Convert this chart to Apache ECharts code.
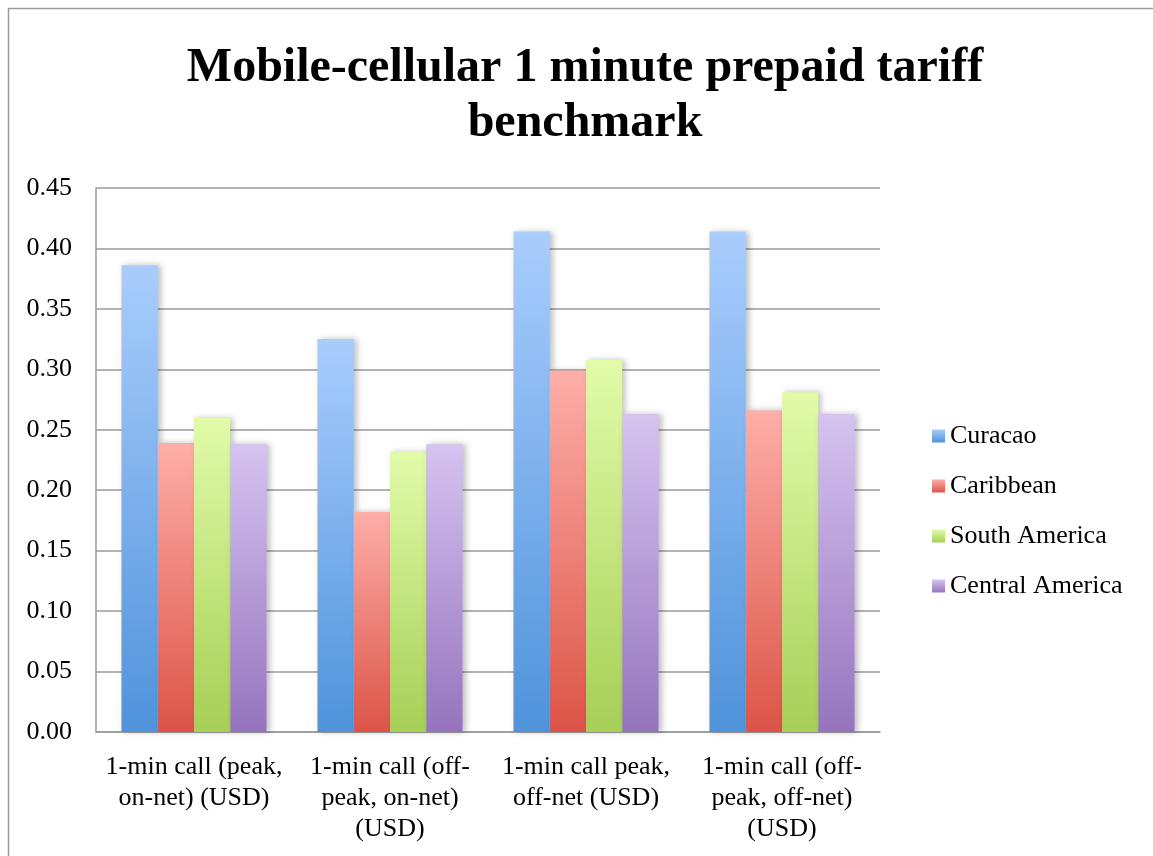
<!DOCTYPE html>
<html>
<head>
<meta charset="utf-8">
<script src="https://cdn.jsdelivr.net/npm/echarts@6/dist/echarts.min.js"></script>
<style>
  html, body { margin: 0; padding: 0; background: #fff; }
  #chart { width: 1153px; height: 856px; }
</style>
</head>
<body>
<div id="chart"></div>
<script>
const categories = [
  '1-min call (peak,\non-net) (USD)',
  '1-min call (off-\npeak, on-net)\n(USD)',
  '1-min call peak,\noff-net (USD)',
  '1-min call (off-\npeak, off-net)\n(USD)'
];
const curacao = [0.386, 0.325, 0.414, 0.414];
const caribbean = [0.239, 0.182, 0.299, 0.266];
const southAmerica = [0.260, 0.232, 0.308, 0.281];
const centralAmerica = [0.238, 0.238, 0.263, 0.263];

const font = '"Liberation Serif", "Times New Roman", serif';

function grad(top, bottom) {
  return new echarts.graphic.LinearGradient(0, 0, 0, 1, [
    { offset: 0, color: top },
    { offset: 1, color: bottom }
  ]);
}

function barSeries(name, data, top, bottom) {
  return {
    name: name,
    type: 'bar',
    data: data,
    barGap: '0%',
    barCategoryGap: '26%',
    itemStyle: {
      color: grad(top, bottom),
      shadowColor: 'rgba(0,0,0,0.25)',
      shadowBlur: 6,
      shadowOffsetX: 3,
      shadowOffsetY: 0
    }
  };
}

const chart = echarts.init(document.getElementById('chart'));
chart.setOption({
  animation: false,
  backgroundColor: '#fff',
  textStyle: { fontFamily: font },
  graphic: [{
    type: 'rect',
    shape: { x: 8.5, y: 8.5, width: 1160, height: 870 },
    style: { fill: 'none', stroke: '#9a9a9a', lineWidth: 1.5 },
    silent: true
  }],
  title: {
    text: 'Mobile-cellular 1 minute prepaid tariff\nbenchmark',
    left: 580,
    top: 36,
    textAlign: 'center',
    textStyle: {
      fontFamily: font,
      fontWeight: 'bold',
      fontSize: 48,
      lineHeight: 55,
      color: '#000'
    }
  },
  legend: {
    orient: 'vertical',
    left: 927,
    top: 418,
    itemWidth: 13,
    itemHeight: 13,
    itemGap: 24,
    icon: 'rect',
    textStyle: { fontFamily: font, fontSize: 26, lineHeight: 26, color: '#000' },
    data: ['Curacao', 'Caribbean', 'South America', 'Central America']
  },
  grid: { left: 96, right: 273, top: 188, bottom: 124 },
  xAxis: {
    type: 'category',
    data: categories,
    axisLine: { lineStyle: { color: '#9a9a9a', width: 1.5 } },
    axisTick: { show: false },
    axisLabel: {
      interval: 0,
      fontFamily: font,
      fontSize: 26,
      lineHeight: 31,
      color: '#000',
      margin: 20
    }
  },
  yAxis: {
    type: 'value',
    min: 0,
    max: 0.45,
    interval: 0.05,
    axisLine: { show: true, lineStyle: { color: '#9a9a9a', width: 1.5 } },
    axisTick: { show: false },
    splitLine: { lineStyle: { color: '#9a9a9a', width: 1.5 } },
    axisLabel: {
      fontFamily: font,
      fontSize: 26,
      color: '#000',
      margin: 24,
      formatter: v => v.toFixed(2)
    }
  },
  series: [
    barSeries('Curacao', curacao, '#a9cdfd', '#4f93db'),
    barSeries('Caribbean', caribbean, '#fdaea9', '#dc5447'),
    barSeries('South America', southAmerica, '#e2fba9', '#a6cf57'),
    barSeries('Central America', centralAmerica, '#d6c3f0', '#9574bd')
  ]
});
</script>
</body>
</html>
